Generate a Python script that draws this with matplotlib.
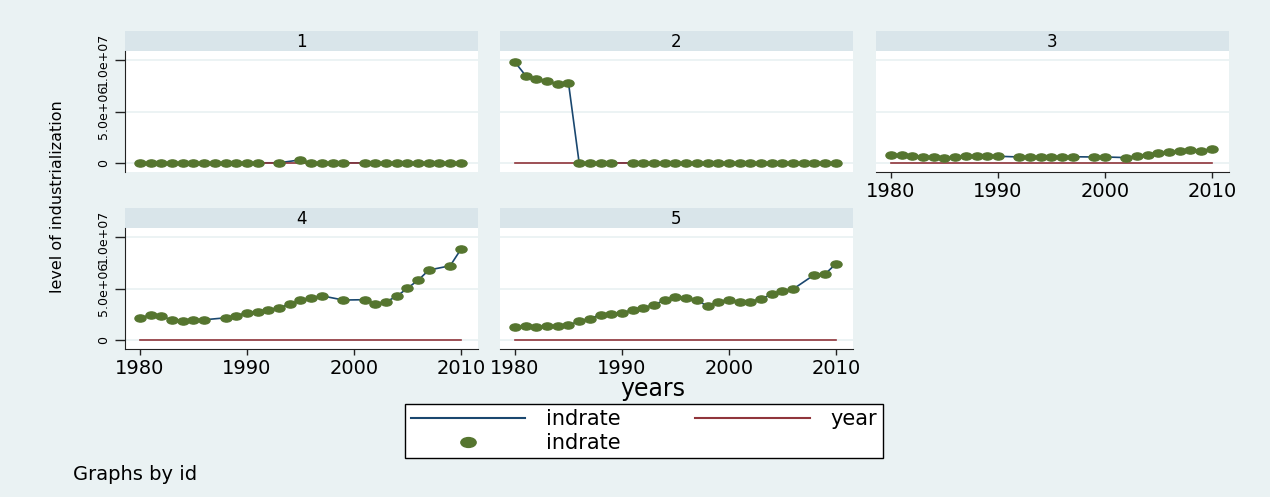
import numpy as np
import matplotlib.pyplot as plt
from matplotlib.path import Path
from matplotlib.transforms import Affine2D
from matplotlib.lines import Line2D

nan = np.nan

# data
years = list(range(1980, 2011))
ids = [1, 2, 3, 4, 5]

indrate_1 = [10000, 12000, 9000, 11000, 10000, 8000, 9000, 10000, 12000, 11000,
             10000, 12000, nan, 15000, nan, 300000, 14000, 12000, 11000, 10000,
             nan, 9000, 10000, 11000, 12000, 10000, 11000, 12000, 10000, 11000, 12000]
indrate_2 = [9800000, 8480000, 8160000, 7970000, 7650000, 7800000, 5000, 5000, 5000, 5000,
             nan, 5000, 5000, 5000, 5000, 5000, 5000, 5000, 5000, 5000,
             5000, 5000, 5000, 5000, 5000, 5000, 5000, 5000, 5000, 5000, 5000]
indrate_3 = [770000, 740000, 650000, 580000, 550000, 480000, 550000, 650000, 650000, 650000,
             650000, nan, 580000, 580000, 580000, 580000, 600000, 600000, nan, 580000,
             580000, nan, 520000, 680000, 800000, 940000, 1030000, 1160000, 1230000, 1160000, 1390000]
indrate_4 = [2120000, 2440000, 2280000, 1960000, 1860000, 1960000, 1960000, nan, 2150000, 2340000,
             2660000, 2720000, 2950000, 3110000, 3490000, 3850000, 4040000, 4290000, nan, 3880000,
             nan, 3910000, 3530000, 3720000, 4230000, 5030000, 5800000, 6790000, nan, 7210000, 8810000]
indrate_5 = [1250000, 1310000, 1250000, 1310000, 1310000, 1440000, 1830000, 2080000, 2440000, 2530000,
             2630000, 2920000, 3110000, 3430000, 3850000, 4200000, 4040000, 3850000, 3300000, 3720000,
             3910000, 3650000, 3720000, 4000000, 4420000, 4740000, 4940000, nan, 6350000, 6410000, 7400000]
panels = [indrate_1, indrate_2, indrate_3, indrate_4, indrate_5]

ytick_vals = [0, 5000000, 10000000]
ytick_labels = ['0', '5.0e+06', '1.0e+07']
xtick_vals = [1980, 1990, 2000, 2010]

# stata s2color look
bg = '#EAF2F3'
strip_col = '#D9E5EA'
navy = '#1A476F'
maroon = '#90353B'
green = '#55752F'

ellipse = Affine2D().scale(1.55, 1.0).transform_path(Path.unit_circle())

W, H = 1270, 497
fig = plt.figure(figsize=(W / 100, H / 100), dpi=100)
fig.patch.set_facecolor(bg)


def box(x0, ytop, w, h):
    return [x0 / W, 1 - (ytop + h) / H, w / W, h / H]


col_x = [125, 500, 876]
row_y = [51, 228]
pw, ph, sh = 353, 121, 20
grid_pos = [(0, 0), (0, 1), (0, 2), (1, 0), (1, 1)]

yrs = np.array(years)
for k, (r, c) in enumerate(grid_pos):
    vals = np.array(panels[k], dtype=float)
    ok = ~np.isnan(vals)

    st = fig.add_axes(box(col_x[c], row_y[r] - sh, pw, sh))
    st.set_facecolor(strip_col)
    st.set_xticks([])
    st.set_yticks([])
    for s in st.spines.values():
        s.set_visible(False)
    st.text(0.5, 0.45, str(ids[k]), ha='center', va='center', fontsize=12,
            transform=st.transAxes)

    ax = fig.add_axes(box(col_x[c], row_y[r], pw, ph))
    ax.set_facecolor('white')
    ax.plot(yrs[ok], vals[ok], color=navy, lw=1.2, zorder=2)
    ax.plot(yrs, yrs, color=maroon, lw=1.2, zorder=2)
    ax.plot(yrs[ok], vals[ok], ls='none', marker=ellipse, ms=8, color=green,
            mec=green, zorder=3)

    ax.set_xlim(1978.6, 2011.6)
    ax.set_ylim(-880000, 10880000)
    ax.set_yticks(ytick_vals)
    ax.set_yticklabels(ytick_labels, rotation=90, va='center', fontsize=9)
    ax.set_xticks(xtick_vals)
    ax.set_xticklabels([str(v) for v in xtick_vals], fontsize=14)
    ax.yaxis.grid(True, color=bg, lw=1.3)
    ax.set_axisbelow(True)

    first_col = c == 0
    bottom = (r == 1) or (c == 2)
    ax.tick_params(axis='y', left=first_col, labelleft=first_col,
                   length=7, width=1, pad=4, color='#222222')
    ax.tick_params(axis='x', bottom=bottom, labelbottom=bottom,
                   length=4, width=1, pad=3, color='#222222')
    for name, s in ax.spines.items():
        s.set_visible(False)
    if first_col:
        ax.spines['left'].set_visible(True)
        ax.spines['left'].set_color('#222222')
    if bottom:
        ax.spines['bottom'].set_visible(True)
        ax.spines['bottom'].set_color('#222222')

fig.text(58 / W, 1 - 197 / H, 'level of industrialization', rotation=90,
         ha='center', va='center', fontsize=11.5)
fig.text(653 / W, 1 - 389 / H, 'years', ha='center', va='center', fontsize=17)
fig.text(73 / W, 1 - 474 / H, 'Graphs by id', ha='left', va='center', fontsize=14)

handles = [Line2D([], [], color=navy, lw=1.5),
           Line2D([], [], ls='none', marker=ellipse, ms=11, color=green),
           Line2D([], [], color=maroon, lw=1.5)]
leg = fig.legend(handles, ['indrate', 'indrate', 'year'], ncol=2, mode='expand',
                 bbox_to_anchor=box(395, 403, 498, 56), loc='center',
                 fontsize=15, handlelength=5.5, handletextpad=1.0, labelspacing=0.2,
                 borderpad=0.25, numpoints=1, fancybox=False, framealpha=1,
                 edgecolor='black')
leg.get_frame().set_linewidth(1.0)

fig.savefig('out.png', dpi=100, facecolor=bg)
